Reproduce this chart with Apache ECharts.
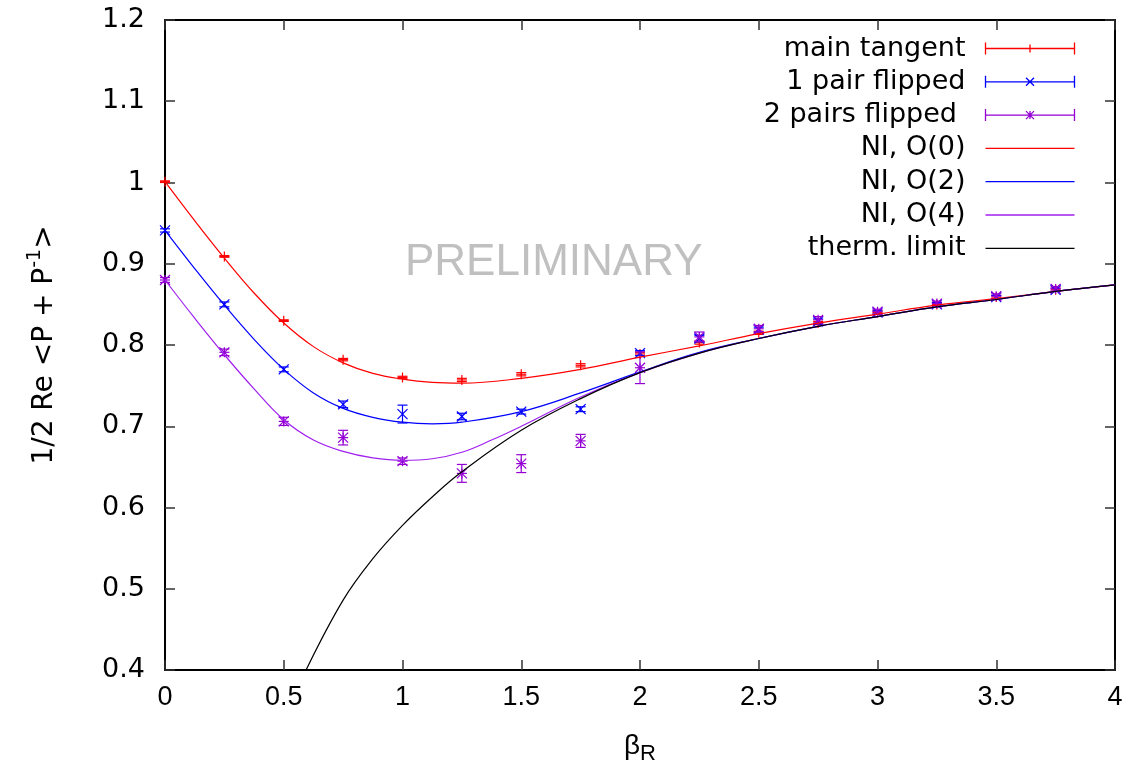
<!DOCTYPE html>
<html>
<head>
<meta charset="utf-8">
<script src="https://cdn.jsdelivr.net/npm/echarts@6/dist/echarts.min.js"></script>
<style>
  html, body { margin: 0; padding: 0; background: #fff; }
  #chart { width: 1130px; height: 773px; }
</style>
</head>
<body>
<div id="chart"></div>
<script>
// measured points, same beta_R grid for all three data sets
const betaPts = [0, 0.25, 0.5, 0.75, 1, 1.25, 1.5, 1.75, 2, 2.25, 2.5, 2.75, 3, 3.25, 3.5, 3.75]

const mainVal = [1.001, 0.909, 0.830, 0.782, 0.760, 0.757, 0.764, 0.775, 0.789, 0.803, 0.815, 0.827, 0.840, 0.850, 0.859, 0.868]
const mainErr = [0.001, 0.001, 0.001, 0.0015, 0.0015, 0.002, 0.002, 0.002, 0.002, 0.002, 0.002, 0.002, 0.002, 0.002, 0.002, 0.002]

const pair1Val = [0.941, 0.850, 0.770, 0.727, 0.715, 0.712, 0.718, 0.721, 0.790, 0.808, 0.819, 0.829, 0.840, 0.850, 0.859, 0.868]
const pair1Err = [0.002, 0.003, 0.003, 0.004, 0.011, 0.004, 0.003, 0.003, 0.003, 0.004, 0.003, 0.003, 0.002, 0.002, 0.002, 0.002]

const pair2Val = [0.880, 0.791, 0.706, 0.686, 0.657, 0.642, 0.654, 0.682, 0.772, 0.810, 0.820, 0.831, 0.841, 0.851, 0.860, 0.869]
const pair2Err = [0.003, 0.004, 0.005, 0.009, 0.004, 0.011, 0.011, 0.008, 0.0195, 0.006, 0.004, 0.004, 0.003, 0.003, 0.003, 0.003]

// NI curves
const ni0Beta = [0, 0.125, 0.25, 0.375, 0.5, 0.625, 0.75, 0.875, 1, 1.125, 1.25, 1.5, 1.75, 2, 2.25, 2.5, 2.75, 3, 3.25, 3.5, 3.75, 4]
const ni0Val = [1.001, 0.953, 0.907, 0.864, 0.827, 0.798, 0.778, 0.765, 0.758, 0.754, 0.753, 0.759, 0.770, 0.785, 0.799, 0.814, 0.827, 0.838, 0.849, 0.857, 0.866, 0.874]

const ni2Beta = [0, 0.125, 0.25, 0.375, 0.5, 0.625, 0.75, 0.875, 1, 1.125, 1.25, 1.5, 1.75, 2, 2.25, 2.5, 2.75, 3, 3.25, 3.5, 3.75, 4]
const ni2Val = [0.941, 0.894, 0.849, 0.807, 0.770, 0.741, 0.722, 0.711, 0.705, 0.703, 0.705, 0.718, 0.741, 0.767, 0.791, 0.808, 0.823, 0.835, 0.847, 0.856, 0.866, 0.874]

const ni4Beta = [0, 0.125, 0.25, 0.375, 0.5, 0.625, 0.75, 0.875, 1, 1.125, 1.25, 1.375, 1.5, 1.75, 2, 2.25, 2.5, 2.75, 3, 3.25, 3.5, 3.75, 4]
const ni4Val = [0.880, 0.833, 0.788, 0.746, 0.708, 0.683, 0.669, 0.661, 0.658, 0.660, 0.668, 0.683, 0.700, 0.736, 0.766, 0.790, 0.808, 0.823, 0.835, 0.847, 0.856, 0.866, 0.874]

const thermBeta = [0.594, 0.75, 0.875, 1, 1.125, 1.25, 1.5, 1.75, 2, 2.25, 2.5, 2.75, 3, 3.25, 3.5, 3.75, 4]
const thermVal = [0.400, 0.486, 0.537, 0.578, 0.613, 0.644, 0.695, 0.734, 0.766, 0.790, 0.808, 0.823, 0.835, 0.847, 0.856, 0.866, 0.874]

const xTicks = [0, 4, 0.5]   // min, max, step
const yTicks = [0.4, 1.2, 0.1]

const RED = '#ff0000'
const BLUE = '#0000ff'
const VIOLET = '#9400d3'
const VIOLET_LINE = '#a020f0'

function pts(xs, ys) {
  return xs.map((x, i) => [x, ys[i]])
}

function withErr(ys, es) {
  return betaPts.map((x, i) => [x, ys[i], es[i]])
}

// error bar + point marker, gnuplot style
function errorBars(marker, color) {
  return function (params, api) {
    const x = api.value(0)
    const y = api.value(1)
    const e = api.value(2)
    const c = api.coord([x, y])
    const top = api.coord([x, y + e])[1]
    const bot = api.coord([x, y - e])[1]
    const h = 5
    const segs = [
      [c[0], top, c[0], bot],
      [c[0] - h, top, c[0] + h, top],
      [c[0] - h, bot, c[0] + h, bot]
    ]
    if (marker === 'plus' || marker === 'star') {
      segs.push([c[0] - h, c[1], c[0] + h, c[1]], [c[0], c[1] - h, c[0], c[1] + h])
    }
    if (marker === 'cross' || marker === 'star') {
      segs.push([c[0] - h, c[1] - h, c[0] + h, c[1] + h], [c[0] - h, c[1] + h, c[0] + h, c[1] - h])
    }
    return {
      type: 'group',
      children: segs.map((s) => ({
        type: 'line',
        shape: { x1: s[0], y1: s[1], x2: s[2], y2: s[3] },
        style: { stroke: color, lineWidth: 1.2 }
      }))
    }
  }
}

const capsIcon = 'M0,0 L0,12 M0,6 L89,6 M89,0 L89,12'
const icons = {
  plus: 'path://' + capsIcon + ' M44.5,2 L44.5,10',
  cross: 'path://' + capsIcon + ' M40.5,2 L48.5,10 M48.5,2 L40.5,10',
  star: 'path://' + capsIcon + ' M44.5,2 L44.5,10 M40.5,2 L48.5,10 M48.5,2 L40.5,10',
  line: 'path://M0,0 L0,0 M0,6 L89,6 M89,12 L89,12'
}

function legendItem(name, icon, color) {
  return { name, icon: icons[icon], itemStyle: { color: 'none', borderColor: color, borderWidth: 1.3 } }
}

function pointSeries(name, marker, color, ys, es) {
  return {
    name,
    type: 'custom',
    renderItem: errorBars(marker, color),
    itemStyle: { color },
    encode: { x: 0, y: 1 },
    data: withErr(ys, es),
    z: 3
  }
}

function curveSeries(name, color, xs, ys, z) {
  return {
    name,
    type: 'line',
    data: pts(xs, ys),
    smooth: 0.4,
    showSymbol: false,
    symbol: 'none',
    lineStyle: { color, width: 1.2 },
    itemStyle: { color },
    z
  }
}

const axisLine = { onZero: false, lineStyle: { color: '#000', width: 2 } }
const axisTick = { inside: true, length: 10, lineStyle: { color: '#333', width: 1.5 } }

const chart = echarts.init(document.getElementById('chart'))
chart.setOption({
  animation: false,
  backgroundColor: '#fff',
  grid: { left: 165, right: 15, top: 20, bottom: 103 },
  graphic: [{
    type: 'text',
    left: 405,
    top: 241,
    style: { text: 'PRELIMINARY', fill: '#c0c0c0', font: '44px "Liberation Sans"' }
  }],
  legend: {
    orient: 'vertical',
    right: 53,
    top: 35,
    padding: 0,
    align: 'right',
    itemWidth: 89,
    itemHeight: 12,
    itemGap: 6.3,
    selectedMode: false,
    textStyle: { fontFamily: 'DejaVu Sans', fontSize: 27, lineHeight: 26, color: '#000', padding: [0, 15, 0, 0] },
    data: [
      legendItem('main tangent', 'plus', RED),
      legendItem('1 pair flipped', 'cross', BLUE),
      legendItem('2 pairs flipped ', 'star', VIOLET),
      legendItem('NI, O(0)', 'line', RED),
      legendItem('NI, O(2)', 'line', BLUE),
      legendItem('NI, O(4)', 'line', VIOLET_LINE),
      legendItem('therm. limit', 'line', '#000')
    ]
  },
  xAxis: [
    {
      type: 'value', min: xTicks[0], max: xTicks[1], interval: xTicks[2], position: 'bottom',
      axisLine, axisTick,
      splitLine: { show: false },
      axisLabel: { margin: 14, fontFamily: 'Liberation Sans', fontSize: 27, color: '#000' },
      name: '{b|β}{s|R}',
      nameLocation: 'middle',
      nameGap: 62,
      nameTextStyle: {
        rich: {
          b: { fontFamily: 'Liberation Sans', fontSize: 28, lineHeight: 30, verticalAlign: 'top', color: '#000' },
          s: { fontFamily: 'Liberation Sans', fontSize: 22, lineHeight: 22, padding: [14, 0, 0, 0], color: '#000' }
        }
      }
    },
    {
      type: 'value', min: xTicks[0], max: xTicks[1], interval: xTicks[2], position: 'top',
      axisLine, axisTick,
      splitLine: { show: false },
      axisLabel: { show: false }
    }
  ],
  yAxis: [
    {
      type: 'value', min: yTicks[0], max: yTicks[1], interval: yTicks[2], position: 'left',
      axisLine, axisTick,
      splitLine: { show: false },
      axisLabel: { margin: 20, fontFamily: 'DejaVu Sans', fontSize: 27, color: '#000' },
      name: '{a|1/2 Re <P + P}{s|-1}{a|>}',
      nameLocation: 'middle',
      nameGap: 108,
      nameTextStyle: {
        rich: {
          a: { fontFamily: 'DejaVu Sans', fontSize: 28, lineHeight: 31, padding: [6, 0, 0, 0], color: '#000' },
          s: { fontFamily: 'DejaVu Sans', fontSize: 19, lineHeight: 19, verticalAlign: 'top', color: '#000' }
        }
      }
    },
    {
      type: 'value', min: yTicks[0], max: yTicks[1], interval: yTicks[2], position: 'right',
      axisLine, axisTick,
      splitLine: { show: false },
      axisLabel: { show: false }
    }
  ],
  series: [
    pointSeries('main tangent', 'plus', RED, mainVal, mainErr),
    pointSeries('1 pair flipped', 'cross', BLUE, pair1Val, pair1Err),
    pointSeries('2 pairs flipped ', 'star', VIOLET, pair2Val, pair2Err),
    curveSeries('NI, O(0)', RED, ni0Beta, ni0Val, 4),
    curveSeries('NI, O(2)', BLUE, ni2Beta, ni2Val, 4),
    curveSeries('NI, O(4)', VIOLET_LINE, ni4Beta, ni4Val, 4),
    curveSeries('therm. limit', '#000', thermBeta, thermVal, 5)
  ]
})
</script>
</body>
</html>
